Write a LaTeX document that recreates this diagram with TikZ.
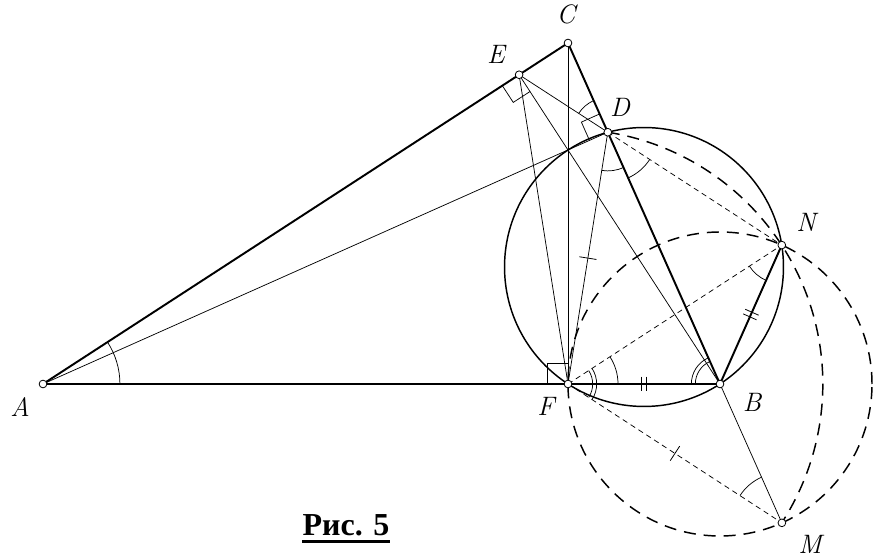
\documentclass[tikz,border=0pt]{standalone}
\usepackage{fontspec}
\newfontfamily\rusfont{Liberation Serif}
\usetikzlibrary{calc,angles}
\begin{document}
\begin{tikzpicture}[x=0.75pt,y=0.75pt,
  thickline/.style={line width=1.45pt},
  circline/.style={line width=1.1pt},
  thinline/.style={line width=0.55pt},
  thindash/.style={line width=0.55pt, dash pattern=on 4pt off 3pt},
  heavydash/.style={line width=1.1pt, dash pattern=on 9pt off 6pt},
  anglemark/.style={draw, line width=0.55pt},
  tickmark/.style={line width=0.6pt},
  rightmark/.style={line width=0.55pt},
  ptmark/.style={circle, draw, fill=white, inner sep=0pt, minimum size=5.8pt, line width=0.6pt},
  lbl/.style={font=\fontsize{20}{24}\selectfont\itshape, inner sep=0pt}
]
\useasboundingbox (0,0) rectangle (890,-559);
% points
\coordinate (A) at (43,-384);
\coordinate (B) at (720,-384);
\coordinate (C) at (568,-43);
\coordinate (F) at (568,-384);
\coordinate (D) at ($(C)!(A)!(B)$);
\coordinate (E) at ($(A)!(B)!(C)$);
\coordinate (O) at (644,-267);
\coordinate (N) at (781.8,-245.1);
\coordinate (M) at ($(B)!-0.4072!(C)$);

% circles
\draw[circline] (O) circle[radius=104.6pt];
\draw[heavydash] (B) circle[radius=114pt];
\draw[heavydash] (D) arc[start angle=81, end angle=-33, radius=191.2pt];

% triangle
\draw[thickline] (A) -- (C) -- (B) -- cycle;
\draw[thickline] (N) -- (B);

% thin lines
\draw[thinline] (A) -- (D);
\draw[thinline] (C) -- (F);
\draw[thinline] (E) -- (F);
\draw[thinline] (E) -- (D);
\draw[thinline] (E) -- (B);
\draw[thinline] (D) -- (F);
\draw[thinline] (B) -- (M);

% thin dashed lines
\draw[thindash] (D) -- (N);
\draw[thindash] (F) -- (N);
\draw[thindash] (F) -- (M);

% angle marks
\path pic[anglemark, angle radius=57.7pt] {angle = B--A--C};
\path pic[anglemark, angle radius=26pt] {angle = C--D--E};
\path pic[anglemark, angle radius=29pt] {angle = F--D--B};
\path pic[anglemark, angle radius=37.5pt] {angle = B--D--N};
\path pic[anglemark, angle radius=37.5pt] {angle = B--F--N};
\path pic[anglemark, angle radius=18.5pt] {angle = M--F--N};
\path pic[anglemark, angle radius=21.5pt] {angle = M--F--N};
\path pic[anglemark, angle radius=18.5pt] {angle = C--B--F};
\path pic[anglemark, angle radius=21.5pt] {angle = C--B--F};
\path pic[anglemark, angle radius=29pt] {angle = F--N--B};
\path pic[anglemark, angle radius=37.5pt] {angle = B--M--F};

% right angles
\coordinate (e1) at ($(E)!15pt!(A)$);
\coordinate (e2) at ($(E)!15pt!(B)$);
\draw[rightmark] (e1) -- ($(e1)+(e2)-(E)$) -- (e2);
\coordinate (d1) at ($(D)!15pt!(C)$);
\coordinate (d2) at ($(D)!15pt!(A)$);
\draw[rightmark] (d1) -- ($(d1)+(d2)-(D)$) -- (d2);
\coordinate (f1) at ($(F)!15.5pt!(C)$);
\coordinate (f2) at ($(F)!15.5pt!(A)$);
\draw[rightmark] (f1) -- ($(f1)+(f2)-(F)$) -- (f2);

% single ticks
\coordinate (mFD) at ($(F)!.5!(D)$);
\draw[tickmark] ($(mFD)!6.5pt!90:(D)$) -- ($(mFD)!6.5pt!-90:(D)$);
\coordinate (mFM) at ($(F)!.5!(M)$);
\draw[tickmark] ($(mFM)!6.5pt!90:(M)$) -- ($(mFM)!6.5pt!-90:(M)$);
% double ticks
\coordinate (mFB) at ($(F)!.5!(B)$);
\coordinate (t1) at ($(mFB)!1.9pt!(B)$);
\coordinate (t2) at ($(mFB)!1.9pt!(F)$);
\draw[tickmark] ($(t1)!5.5pt!90:(B)$) -- ($(t1)!5.5pt!-90:(B)$);
\draw[tickmark] ($(t2)!5.5pt!90:(B)$) -- ($(t2)!5.5pt!-90:(B)$);
\coordinate (mNB) at ($(N)!.5!(B)$);
\coordinate (t3) at ($(mNB)!1.9pt!(B)$);
\coordinate (t4) at ($(mNB)!1.9pt!(N)$);
\draw[tickmark] ($(t3)!5.5pt!90:(B)$) -- ($(t3)!5.5pt!-90:(B)$);
\draw[tickmark] ($(t4)!5.5pt!90:(B)$) -- ($(t4)!5.5pt!-90:(B)$);

% point markers
\foreach \p in {A,B,C,D,E,F,N,M}
  \node[ptmark] (p\p) at (\p) {};

% labels
\node[lbl] (lA) at (20,-407) {A};
\node[lbl] (lB) at (752,-402) {B};
\node[lbl] (lC) at (566,-14) {C};
\node[lbl] (lD) at (620,-107) {D};
\node[lbl] (lE) at (496,-54) {E};
\node[lbl] (lF) at (546,-406) {F};
\node[lbl] (lN) at (806,-222) {N};
\node[lbl] (lM) at (810,-544) {M};

% caption
\node[font=\rusfont\bfseries\fontsize{24}{28}\selectfont, anchor=base, inner sep=0pt] (cap) at (346,-536) {Рис. 5};
\draw[line width=2.6pt] ([yshift=-4pt]cap.base west) -- ([yshift=-4pt]cap.base east);
\end{tikzpicture}
\end{document}
